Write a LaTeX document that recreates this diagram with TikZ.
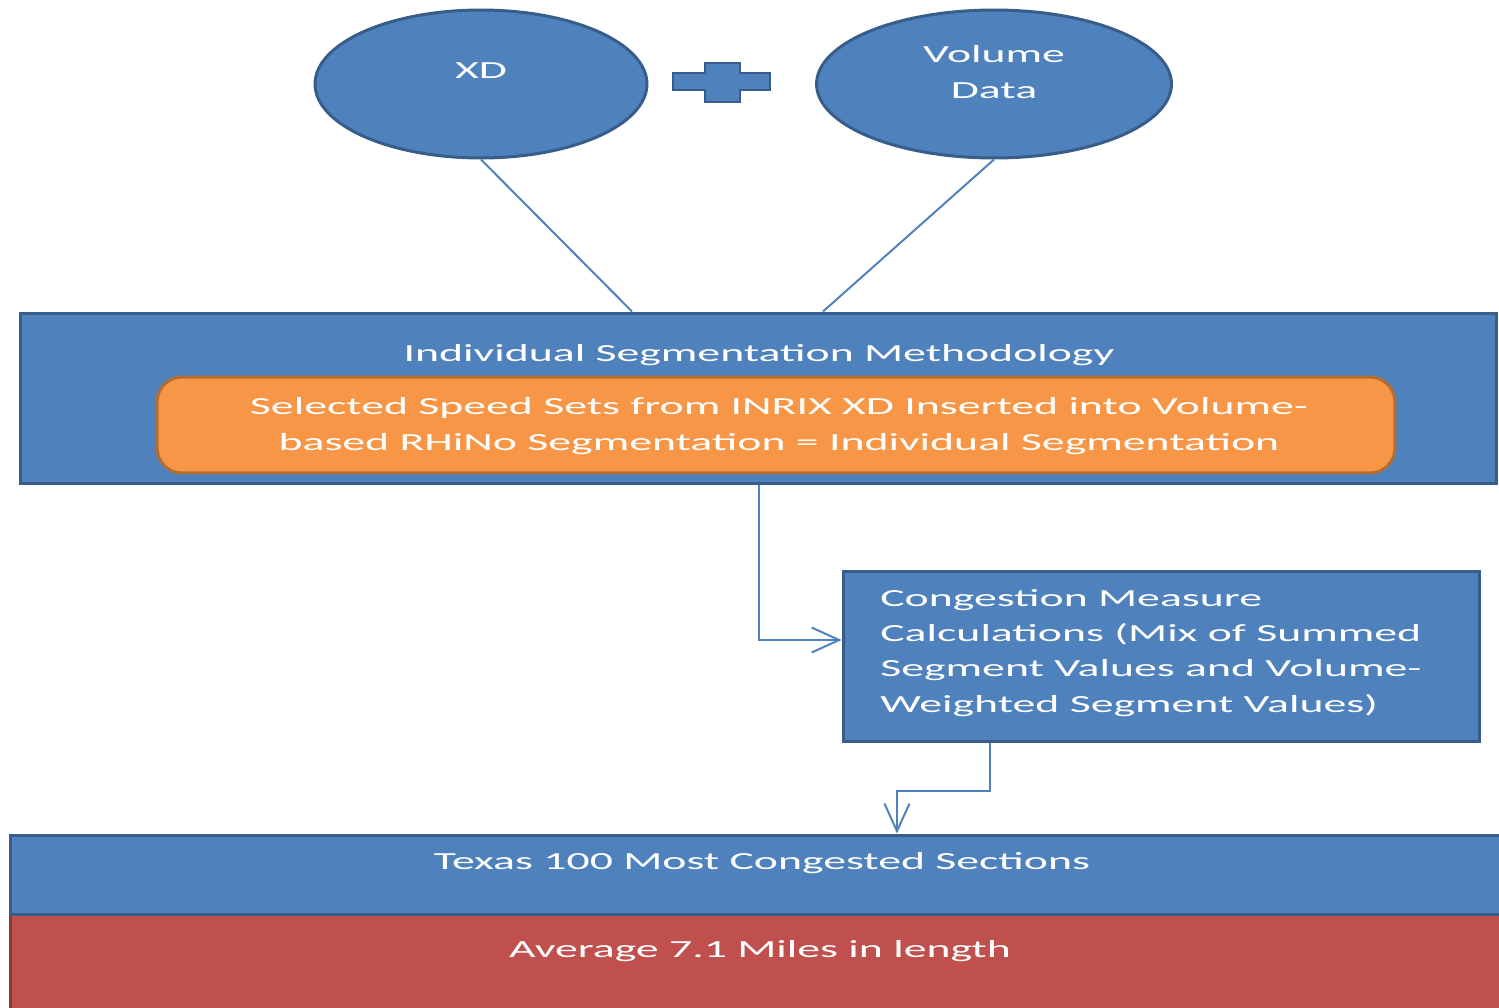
\documentclass[tikz,border=0pt]{standalone}
\usepackage{fontspec}
\setmainfont{Carlito}[FakeStretch=1.86]
\usetikzlibrary{shapes.geometric,arrows.meta}
\definecolor{boxblue}{RGB}{79,129,189}
\definecolor{edgeblue}{RGB}{56,93,138}
\definecolor{boxorange}{RGB}{247,150,70}
\definecolor{edgeorange}{RGB}{182,109,49}
\definecolor{boxred}{RGB}{192,80,77}
\definecolor{edgered}{RGB}{140,56,54}
\tikzset{
  bubble/.style={ellipse, draw=edgeblue, fill=boxblue, line width=0.06cm, inner sep=0pt},
  panel/.style={rectangle, draw=edgeblue, fill=boxblue, line width=0.06cm, inner sep=0pt},
  inset/.style={rectangle, rounded corners=0.5cm, draw=edgeorange, fill=boxorange, line width=0.06cm},
  txt/.style={text=white, font=\fontsize{14}{20}\selectfont, inner sep=0pt},
  link/.style={draw=boxblue, line width=0.04cm},
  flow/.style={link, -{Straight Barb[length=0.55cm, width=0.5cm, line width=0.04cm]}},
}
\begin{document}
\begin{tikzpicture}[x=0.02cm, y=-0.02cm]
\useasboundingbox (0,0) rectangle (1499,1008);%

% Drawing the two data sources
\node [bubble, minimum width=6.64cm, minimum height=2.96cm] (xd) at (481,84) {};%
\node [txt] (xdtext) at (481,71) {XD};%
\node [bubble, minimum width=7.1cm, minimum height=2.96cm] (volume) at (994,84) {};%
\node [txt, align=center] (volumetext) at (994,72) {Volume\\Data};%

% Drawing plus sign
\draw [fill=boxblue, draw=edgeblue, line width=0.05cm] (673,73) -- (705,73) -- (705,63) -- (740,63) -- (740,73) -- (770,73) -- (770,90) -- (740,90) -- (740,102) -- (705,102) -- (705,90) -- (673,90) -- cycle;%

% Drawing segmentation box
\node [panel, minimum width=29.54cm, minimum height=3.42cm] (method) at (758.5,398.5) {};%
\node [txt] (methodtext) at (759,355) {Individual Segmentation Methodology};%
\node [inset, minimum width=24.76cm, minimum height=1.92cm] (speedsets) at (776,425) {};%
\node [txt, align=center] (speedtext) at (779,426) {Selected Speed Sets from INRIX XD Inserted into Volume-\\based RHiNo Segmentation = Individual Segmentation};%

% Drawing congestion box
\node [panel, minimum width=12.74cm, minimum height=3.42cm] (congest) at (1161.5,656.5) {};%
\node [txt, align=left, anchor=west] (congesttext) at (880,653) {Congestion Measure\\Calculations (Mix of Summed\\Segment Values and Volume-\\Weighted Segment Values)};%

% Drawing result bars
\node [rectangle, draw=edgered, fill=boxred, line width=0.06cm, minimum width=30.2cm, minimum height=2.4cm] (average) at (765,974) {};%
\node [panel, minimum width=30.2cm, minimum height=1.58cm] (texas) at (765,874.5) {};%
\node [txt] (texastext) at (762,863) {Texas 100 Most Congested Sections};%
\node [txt] (averagetext) at (760,951) {Average 7.1 Miles in length};%

% Drawing connectors
\draw [link] (xd.south) -- ([xshift=-2.53cm]method.north);%
\draw [link] (volume.south) -- ([xshift=1.29cm]method.north);%
\draw [flow] (method.south) |- ([yshift=0.33cm]congest.west);%
\draw [flow] ([xshift=-3.43cm]congest.south) -- ++(0,48) -| ([xshift=2.64cm]texas.north);%
\end{tikzpicture}
\end{document}
